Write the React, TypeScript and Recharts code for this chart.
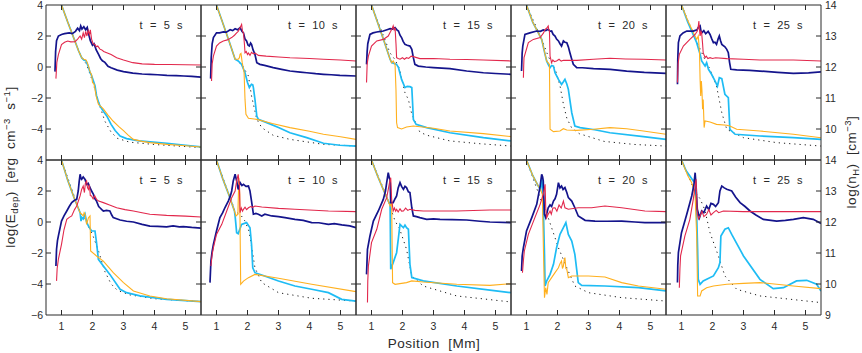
import React from 'react';
import { LineChart, Line, XAxis, YAxis } from 'recharts';

type Pt = [number, number];

// ---------- axis values ----------
const xTicks = [1, 2, 3, 4, 5];
const eTicksTop = [-4, -2, 0, 2, 4];
const eTicksBottom = [-6, -4, -2, 0, 2, 4];
const nTicksTop = [10, 11, 12, 13, 14];
const nTicksBottom = [9, 10, 11, 12, 13, 14];
const times = [5, 10, 15, 20, 25];

// ---------- top row, t = 5 s ----------
const top05Navy: Pt[] = [[0.79,-0.3],[0.81,1.0],[0.84,1.7],[0.9,2.0],[1.0,2.1],[1.1,2.15],[1.25,2.2],[1.35,2.15],[1.45,2.3],[1.52,2.5],[1.58,2.35],[1.62,2.65],[1.66,2.45],[1.72,2.6],[1.78,2.4],[1.83,2.55],[1.88,2.1],[1.93,1.7],[2.0,1.4],[2.05,1.5],[2.12,1.1],[2.2,0.8],[2.26,0.55],[2.32,0.4],[2.4,0.3],[2.5,0.05],[2.6,-0.05],[2.8,-0.2],[3.0,-0.3],[3.3,-0.4],[3.6,-0.45],[3.85,-0.47],[4.1,-0.5],[4.4,-0.54],[4.7,-0.56],[4.95,-0.58],[5.2,-0.6],[5.5,-0.65]];
const top05Red: Pt[] = [[0.82,-0.75],[0.85,0.3],[0.9,0.8],[1.0,1.45],[1.1,1.6],[1.2,1.68],[1.3,1.62],[1.44,1.63],[1.52,1.8],[1.6,2.0],[1.65,1.8],[1.7,2.2],[1.74,1.9],[1.78,2.3],[1.82,2.0],[1.86,2.35],[1.9,2.1],[1.93,2.4],[1.97,1.8],[2.02,1.5],[2.08,1.45],[2.12,1.3],[2.17,1.35],[2.24,1.15],[2.3,1.1],[2.36,1.0],[2.46,0.92],[2.6,0.8],[2.78,0.6],[3.0,0.45],[3.3,0.28],[3.6,0.2],[4.0,0.17],[4.5,0.16],[5.0,0.15],[5.5,0.13]];
const top05Orange: Pt[] = [[1.0,4.0],[1.2,2.9],[1.4,1.85],[1.55,1.05],[1.65,0.6],[1.72,0.5],[1.79,0.45],[1.83,0.3],[1.87,0.06],[1.92,-0.3],[1.97,-0.5],[2.0,-1.0],[2.05,-1.1],[2.12,-1.9],[2.19,-2.4],[2.35,-2.7],[2.5,-3.1],[2.67,-3.5],[2.85,-3.85],[3.0,-4.1],[3.15,-4.4],[3.32,-4.67],[3.6,-4.8],[3.85,-4.88],[4.4,-4.99],[5.0,-5.08],[5.5,-5.16]];
const top05Cyan: Pt[] = [[1.0,4.0],[1.2,2.9],[1.4,1.85],[1.55,1.05],[1.65,0.6],[1.72,0.45],[1.79,0.4],[1.83,0.2],[1.87,0.0],[1.92,-0.35],[1.97,-0.55],[2.03,-0.9],[2.08,-1.2],[2.13,-1.85],[2.2,-2.3],[2.24,-2.5],[2.35,-2.85],[2.46,-3.16],[2.6,-3.7],[2.73,-4.1],[2.89,-4.45],[3.1,-4.62],[3.5,-4.77],[4.4,-4.92],[5.0,-5.05],[5.5,-5.16]];
const top05Dots: Pt[] = [[1.0,4.0],[1.3,2.4],[1.65,0.6],[1.8,0.2],[2.0,-0.9],[2.2,-2.3],[2.4,-3.5],[2.6,-4.2],[2.8,-4.6],[3.2,-4.85],[4.0,-5.0],[5.5,-5.2]];

// ---------- top row, t = 10 s ----------
const top10Navy: Pt[] = [[0.81,-0.75],[0.83,0.6],[0.86,1.5],[0.9,1.9],[1.0,2.2],[1.1,2.2],[1.22,2.26],[1.32,2.25],[1.44,2.4],[1.52,2.35],[1.6,2.47],[1.68,2.4],[1.76,2.54],[1.82,2.3],[1.87,2.2],[1.92,1.8],[1.97,1.68],[2.02,1.4],[2.06,1.35],[2.1,1.55],[2.13,1.46],[2.18,1.1],[2.24,0.82],[2.3,0.28],[2.4,0.17],[2.55,0.1],[2.83,-0.04],[3.1,-0.15],[3.37,-0.26],[3.7,-0.33],[3.91,-0.37],[4.2,-0.43],[4.45,-0.47],[4.7,-0.5],[4.98,-0.54],[5.5,-0.58]];
const top10Red: Pt[] = [[0.84,-0.9],[0.86,0.2],[0.9,0.7],[1.0,1.35],[1.1,1.55],[1.22,1.68],[1.35,1.75],[1.49,1.9],[1.58,2.05],[1.65,2.2],[1.7,2.3],[1.76,2.54],[1.81,2.75],[1.84,2.3],[1.87,2.2],[1.9,1.5],[1.92,0.92],[1.96,1.0],[2.0,0.8],[2.03,0.9],[2.08,0.75],[2.13,0.95],[2.19,0.85],[2.25,0.9],[2.35,0.75],[2.6,0.7],[3.0,0.65],[3.37,0.6],[4.0,0.55],[4.45,0.5],[5.0,0.45],[5.5,0.39]];
const top10Orange: Pt[] = [[1.0,4.0],[1.2,2.85],[1.4,1.7],[1.6,0.5],[1.7,0.5],[1.74,0.6],[1.76,0.82],[1.79,0.88],[1.83,0.28],[1.89,-0.37],[1.92,-2.09],[1.95,-3.05],[2.03,-3.31],[2.3,-3.38],[2.8,-3.65],[3.37,-3.91],[4.0,-4.15],[4.45,-4.34],[5.0,-4.5],[5.5,-4.67]];
const top10Cyan: Pt[] = [[1.0,4.0],[1.2,2.85],[1.4,1.7],[1.6,0.5],[1.7,0.39],[1.81,0.17],[1.92,-0.37],[2.0,-1.0],[2.06,-1.33],[2.1,-1.2],[2.13,-1.12],[2.17,-1.15],[2.19,-1.33],[2.24,-2.09],[2.3,-3.16],[2.35,-3.38],[2.62,-3.59],[3.0,-3.9],[3.37,-4.24],[3.91,-4.56],[4.45,-4.92],[4.98,-5.05],[5.5,-5.1]];
const top10Dots: Pt[] = [[1.0,4.0],[1.6,0.5],[1.81,0.17],[2.03,-0.58],[2.13,-1.87],[2.3,-3.38],[2.46,-3.91],[2.83,-4.41],[3.37,-4.67],[4.45,-4.99],[5.5,-5.1]];

// ---------- top row, t = 15 s ----------
const top15Navy: Pt[] = [[0.84,0.17],[0.86,1.0],[0.88,1.5],[0.95,2.1],[1.05,2.2],[1.17,2.26],[1.3,2.3],[1.38,2.32],[1.5,2.4],[1.6,2.47],[1.68,2.45],[1.76,2.54],[1.82,2.4],[1.87,2.32],[1.92,2.05],[1.97,1.9],[2.02,1.65],[2.08,1.46],[2.15,1.4],[2.24,1.35],[2.3,1.14],[2.35,0.6],[2.4,0.17],[2.51,0.06],[2.75,0.0],[3.0,-0.04],[3.53,-0.11],[4.07,-0.26],[4.61,-0.37],[5.0,-0.42],[5.5,-0.47]];
const top15Red: Pt[] = [[0.84,-1.0],[0.86,0.2],[0.9,0.7],[1.0,1.35],[1.17,1.68],[1.38,1.78],[1.54,2.0],[1.62,2.3],[1.67,2.5],[1.7,2.65],[1.73,2.4],[1.76,2.54],[1.79,1.5],[1.81,0.6],[1.86,0.55],[1.92,0.5],[2.0,0.6],[2.06,0.5],[2.13,0.6],[2.2,0.55],[2.28,0.7],[2.35,0.67],[2.56,0.54],[3.0,0.55],[3.53,0.5],[4.07,0.48],[4.61,0.45],[5.5,0.39]];
const top15Orange: Pt[] = [[1.0,4.0],[1.2,2.85],[1.4,1.7],[1.6,0.5],[1.65,0.28],[1.7,0.39],[1.76,0.17],[1.79,-1.5],[1.81,-3.6],[1.84,-3.91],[1.97,-4.0],[2.13,-3.87],[2.35,-3.81],[3.0,-3.95],[3.53,-4.13],[4.61,-4.3],[5.5,-4.49]];
const top15Cyan: Pt[] = [[1.0,4.0],[1.2,2.85],[1.4,1.7],[1.6,0.5],[1.65,0.28],[1.81,0.17],[1.87,-0.04],[1.97,-0.8],[2.08,-1.33],[2.15,-1.25],[2.24,-1.27],[2.3,-1.33],[2.33,-2.5],[2.35,-3.38],[2.44,-3.7],[2.78,-3.91],[3.53,-4.24],[4.61,-4.56],[5.5,-4.77]];
const top15Dots: Pt[] = [[1.0,4.0],[1.6,0.9],[1.75,0.5],[1.9,-0.1],[2.08,-1.66],[2.19,-2.1],[2.3,-3.05],[2.56,-4.2],[2.78,-4.4],[3.53,-4.77],[4.5,-4.95],[5.5,-5.1]];

// ---------- top row, t = 20 s ----------
const top20Navy: Pt[] = [[0.84,-0.26],[0.86,0.9],[0.88,1.35],[0.95,2.1],[1.11,2.2],[1.33,2.32],[1.45,2.3],[1.54,2.39],[1.62,2.35],[1.7,2.43],[1.76,2.3],[1.81,2.32],[1.86,2.1],[1.92,2.0],[1.97,1.8],[2.03,1.68],[2.08,1.5],[2.13,1.35],[2.19,1.68],[2.24,1.6],[2.3,1.57],[2.35,1.3],[2.4,0.92],[2.46,0.5],[2.51,0.17],[2.62,-0.04],[2.8,-0.05],[3.16,-0.11],[3.7,-0.15],[4.23,-0.26],[4.8,-0.35],[5.5,-0.41]];
const top20Red: Pt[] = [[0.9,-0.69],[0.91,0.1],[0.92,0.6],[1.06,1.57],[1.22,1.78],[1.44,1.9],[1.55,2.2],[1.6,2.43],[1.65,2.5],[1.7,2.65],[1.72,2.4],[1.74,2.32],[1.75,1.5],[1.76,0.7],[1.81,0.28],[1.85,0.45],[1.9,0.35],[1.97,0.39],[2.05,0.5],[2.12,0.38],[2.19,0.43],[2.4,0.43],[2.62,0.43],[3.16,0.5],[3.69,0.56],[4.2,0.52],[4.77,0.5],[5.5,0.45]];
const top20Orange: Pt[] = [[1.0,4.0],[1.2,2.9],[1.49,1.78],[1.65,0.39],[1.74,0.17],[1.75,-2.0],[1.76,-4.02],[1.87,-4.17],[2.08,-4.13],[2.19,-3.98],[2.3,-4.06],[2.62,-4.09],[3.16,-4.02],[3.69,-3.91],[4.23,-3.98],[4.77,-4.13],[5.5,-4.34]];
const top20Cyan: Pt[] = [[1.0,4.0],[1.2,2.9],[1.49,1.78],[1.6,0.8],[1.65,0.39],[1.7,0.17],[1.76,-0.04],[1.81,0.1],[1.87,0.06],[1.92,-0.37],[2.03,-0.8],[2.13,-1.12],[2.19,-0.95],[2.24,-0.8],[2.3,-1.1],[2.35,-1.44],[2.46,-2.95],[2.56,-3.81],[2.73,-3.91],[3.2,-4.05],[3.69,-4.24],[4.77,-4.49],[5.5,-4.67]];
const top20Dots: Pt[] = [[1.0,4.0],[1.49,1.78],[1.7,0.7],[1.95,-0.3],[2.08,-1.2],[2.2,-2.5],[2.3,-3.3],[2.45,-3.9],[2.7,-4.3],[3.5,-4.8],[4.5,-5.0],[5.5,-5.1]];

// ---------- top row, t = 25 s ----------
const top25Navy: Pt[] = [[0.87,-1.12],[0.88,0.5],[0.9,1.57],[0.95,2.0],[1.05,2.2],[1.17,2.32],[1.38,2.32],[1.5,2.4],[1.54,2.54],[1.6,2.65],[1.63,2.3],[1.65,2.2],[1.72,2.35],[1.78,2.15],[1.81,2.2],[1.86,2.3],[1.92,2.1],[1.98,1.8],[2.03,1.57],[2.08,1.6],[2.13,1.46],[2.18,1.8],[2.22,2.0],[2.26,1.7],[2.3,1.46],[2.4,1.3],[2.46,1.14],[2.51,0.92],[2.55,0.3],[2.59,-0.15],[2.78,-0.19],[3.2,-0.22],[3.53,-0.26],[4.1,-0.35],[4.61,-0.41],[5.1,-0.38],[5.5,-0.32]];
const top25Red: Pt[] = [[0.87,-1.0],[0.89,0.2],[0.93,0.82],[1.06,1.35],[1.27,1.78],[1.44,2.1],[1.51,2.32],[1.54,2.6],[1.56,2.97],[1.58,2.4],[1.6,2.0],[1.63,2.3],[1.65,2.2],[1.68,1.5],[1.7,0.92],[1.76,0.6],[1.8,0.7],[1.85,0.55],[1.92,0.6],[2.0,0.55],[2.1,0.6],[2.46,0.54],[3.0,0.5],[3.53,0.45],[4.61,0.45],[5.5,0.39]];
const top25Orange: Pt[] = [[1.0,4.0],[1.2,3.0],[1.49,1.78],[1.54,2.0],[1.58,1.0],[1.6,-0.8],[1.62,-1.87],[1.64,-0.9],[1.66,-1.5],[1.68,-2.73],[1.7,-2.09],[1.73,-3.91],[1.76,-3.48],[1.92,-3.55],[2.13,-3.7],[2.46,-3.76],[2.56,-3.81],[2.78,-4.02],[3.53,-4.13],[4.61,-4.34],[5.5,-4.56]];
const top25Cyan: Pt[] = [[1.0,4.0],[1.2,2.9],[1.49,1.57],[1.6,0.82],[1.65,0.39],[1.76,0.06],[1.81,0.28],[1.87,-0.15],[1.97,-0.47],[2.08,-0.9],[2.16,-1.23],[2.22,-0.69],[2.3,-0.75],[2.4,-1.76],[2.51,-1.98],[2.56,-4.02],[2.73,-4.34],[3.53,-4.45],[4.61,-4.56],[5.5,-4.67]];
const top25Dots: Pt[] = [[1.0,4.0],[1.5,1.6],[1.75,0.5],[1.92,-0.15],[2.13,-1.23],[2.3,-2.95],[2.46,-4.02],[3.0,-4.56],[4.07,-4.88],[5.5,-5.1]];

// ---------- bottom row, t = 5 s ----------
const bot05Navy: Pt[] = [[0.82,-2.84],[0.84,-1.76],[0.87,-1.2],[0.9,-0.9],[1.0,0.06],[1.08,0.4],[1.17,0.71],[1.25,1.0],[1.33,1.25],[1.42,1.4],[1.49,1.46],[1.54,2.0],[1.57,2.6],[1.6,3.08],[1.63,2.8],[1.65,2.75],[1.7,2.9],[1.76,2.75],[1.81,2.43],[1.86,2.5],[1.92,2.22],[1.97,2.0],[2.03,1.78],[2.08,1.5],[2.13,1.35],[2.2,1.0],[2.24,0.92],[2.3,0.8],[2.35,0.71],[2.45,0.75],[2.56,0.71],[2.62,0.45],[2.67,0.28],[2.89,0.13],[3.1,0.05],[3.32,0.0],[3.6,-0.15],[3.85,-0.26],[4.1,-0.28],[4.39,-0.32],[4.6,-0.25],[4.8,-0.32],[4.93,-0.3],[5.2,-0.35],[5.5,-0.39]];
const bot05Red: Pt[] = [[0.84,-3.8],[0.86,-3.0],[0.9,-2.4],[1.0,-1.44],[1.08,-0.5],[1.17,0.17],[1.25,0.3],[1.33,0.39],[1.42,0.8],[1.49,1.03],[1.6,1.68],[1.65,2.1],[1.7,2.32],[1.74,1.9],[1.77,2.5],[1.81,2.65],[1.84,2.2],[1.87,2.1],[1.9,2.4],[1.93,1.7],[1.97,1.68],[2.02,1.5],[2.07,1.7],[2.13,1.46],[2.2,1.35],[2.35,1.25],[2.55,1.1],[2.78,0.92],[3.05,0.8],[3.32,0.71],[3.6,0.6],[3.85,0.5],[4.39,0.43],[5.0,0.38],[5.5,0.32]];
const bot05Orange: Pt[] = [[1.0,4.0],[1.2,2.7],[1.4,1.6],[1.6,0.6],[1.65,0.5],[1.7,0.39],[1.73,0.6],[1.76,0.5],[1.81,-0.15],[1.87,0.28],[1.92,0.39],[1.94,-1.87],[2.13,-2.19],[2.35,-2.52],[2.67,-3.27],[3.0,-3.91],[3.32,-4.45],[3.85,-4.77],[4.39,-4.95],[5.5,-5.14]];
const bot05Cyan: Pt[] = [[1.0,4.0],[1.2,2.7],[1.4,1.6],[1.6,0.6],[1.63,0.06],[1.65,0.3],[1.7,0.2],[1.76,0.5],[1.81,0.0],[1.87,-0.26],[1.97,-0.58],[2.08,-0.58],[2.13,-1.33],[2.19,-2.41],[2.35,-2.84],[2.56,-3.38],[2.89,-4.34],[3.1,-4.56],[3.53,-4.77],[4.39,-4.99],[5.5,-5.14]];
const bot05Dots: Pt[] = [[1.0,4.0],[1.6,0.6],[1.8,0.0],[2.0,-0.8],[2.2,-1.9],[2.4,-3.2],[2.6,-4.0],[2.8,-4.4],[3.2,-4.7],[4.0,-4.95],[5.5,-5.14]];

// ---------- bottom row, t = 10 s ----------
const bot10Navy: Pt[] = [[0.79,-3.91],[0.82,-2.52],[0.86,-1.9],[0.9,-1.44],[1.0,-0.58],[1.11,0.28],[1.2,0.6],[1.27,0.92],[1.38,1.35],[1.45,1.7],[1.49,2.0],[1.54,2.65],[1.6,3.08],[1.65,2.65],[1.7,2.1],[1.76,2.54],[1.82,2.35],[1.87,2.43],[1.95,2.3],[2.03,2.32],[2.08,2.0],[2.13,1.35],[2.19,0.5],[2.27,0.55],[2.35,0.5],[2.46,0.39],[2.56,0.5],[2.78,0.39],[3.0,0.35],[3.21,0.28],[3.53,0.17],[3.8,0.1],[4.07,-0.04],[4.3,-0.05],[4.61,-0.15],[4.8,-0.1],[5.04,-0.19],[5.3,-0.25],[5.5,-0.37]];
const bot10Red: Pt[] = [[0.82,-2.84],[0.86,-2.1],[0.9,-1.66],[1.0,-0.8],[1.17,-0.15],[1.33,0.71],[1.49,1.57],[1.6,2.0],[1.65,2.65],[1.7,3.08],[1.72,2.6],[1.74,2.43],[1.76,0.6],[1.8,0.9],[1.84,0.7],[1.87,0.82],[1.92,0.95],[1.97,0.8],[2.03,0.92],[2.1,1.0],[2.17,0.95],[2.24,1.03],[2.46,0.97],[3.0,0.88],[3.53,0.82],[4.61,0.71],[5.5,0.67]];
const bot10Orange: Pt[] = [[1.0,4.0],[1.2,2.8],[1.4,1.75],[1.58,0.71],[1.63,0.39],[1.69,0.5],[1.72,2.86],[1.75,1.78],[1.78,-4.02],[1.87,-3.81],[2.03,-3.59],[2.24,-3.38],[3.0,-3.63],[4.07,-4.02],[5.5,-4.49]];
const bot10Cyan: Pt[] = [[1.0,4.0],[1.2,2.8],[1.4,1.75],[1.58,0.71],[1.6,0.39],[1.65,-0.69],[1.7,-0.75],[1.81,-0.15],[1.97,-0.04],[2.08,-0.37],[2.13,-1.44],[2.17,-2.95],[2.24,-3.27],[2.46,-3.42],[3.0,-3.81],[3.53,-4.13],[4.07,-4.34],[4.61,-4.56],[5.04,-4.99],[5.5,-5.1]];
const bot10Dots: Pt[] = [[1.0,4.0],[1.6,0.7],[1.8,0.4],[1.92,0.06],[2.05,-0.6],[2.15,-1.8],[2.24,-2.95],[2.46,-3.91],[3.0,-4.56],[4.07,-4.92],[5.5,-5.1]];

// ---------- bottom row, t = 15 s ----------
const bot15Navy: Pt[] = [[0.84,-3.38],[0.87,-1.76],[0.95,-0.9],[1.06,0.06],[1.22,0.71],[1.38,1.46],[1.45,2.0],[1.49,2.54],[1.54,3.18],[1.58,2.8],[1.6,2.75],[1.62,1.25],[1.7,1.25],[1.76,1.5],[1.81,1.68],[1.86,2.2],[1.92,2.54],[1.97,2.3],[2.03,2.11],[2.08,2.3],[2.13,2.22],[2.19,1.95],[2.24,1.9],[2.3,0.92],[2.35,0.39],[2.45,0.35],[2.56,0.28],[2.78,0.17],[3.0,0.2],[3.21,0.17],[3.6,0.15],[4.07,0.13],[4.5,0.05],[4.82,0.0],[5.5,-0.04]];
const bot15Red: Pt[] = [[0.87,-5.2],[0.88,-3.8],[0.9,-2.84],[1.0,-1.33],[1.17,-0.47],[1.33,0.82],[1.49,1.57],[1.55,2.2],[1.58,2.54],[1.62,2.86],[1.65,1.46],[1.7,0.71],[1.74,0.9],[1.78,0.7],[1.81,0.82],[1.86,0.65],[1.92,0.85],[1.97,0.7],[2.03,0.71],[2.1,0.9],[2.17,0.75],[2.24,0.82],[2.4,0.75],[2.67,0.71],[3.75,0.71],[4.82,0.77],[5.5,0.77]];
const bot15Orange: Pt[] = [[1.0,4.0],[1.2,2.95],[1.4,2.0],[1.54,1.35],[1.6,1.03],[1.65,1.25],[1.68,-3.91],[1.76,-4.02],[2.13,-3.91],[2.3,-3.8],[2.67,-3.87],[3.75,-4.02],[4.82,-4.09],[5.5,-3.98]];
const bot15Cyan: Pt[] = [[1.0,4.0],[1.2,2.95],[1.4,2.0],[1.54,1.35],[1.6,1.14],[1.62,-3.05],[1.7,-2.62],[1.81,-1.98],[1.87,-1.0],[1.92,-0.15],[2.03,-0.37],[2.08,-0.2],[2.13,-0.37],[2.19,-0.47],[2.24,-2.73],[2.3,-3.59],[2.67,-3.8],[3.75,-4.13],[4.82,-4.39],[5.5,-4.56]];
const bot15Dots: Pt[] = [[1.0,4.0],[1.5,1.6],[1.76,0.06],[1.9,-0.4],[2.13,-1.76],[2.3,-3.48],[2.67,-4.13],[3.75,-4.77],[5.5,-5.16]];

// ---------- bottom row, t = 20 s ----------
const bot20Navy: Pt[] = [[0.84,-3.16],[0.86,-2.2],[0.9,-1.66],[1.0,-0.58],[1.17,0.28],[1.33,1.14],[1.44,2.32],[1.49,3.08],[1.52,2.9],[1.54,2.65],[1.58,0.5],[1.62,0.28],[1.66,0.6],[1.7,0.92],[1.76,1.1],[1.81,1.0],[1.87,1.35],[1.92,1.5],[1.97,1.78],[2.03,2.54],[2.08,2.2],[2.13,2.32],[2.18,2.1],[2.24,2.22],[2.3,1.9],[2.35,1.57],[2.46,1.35],[2.56,0.92],[2.67,0.39],[2.89,0.11],[3.21,0.06],[3.6,0.05],[4.07,0.06],[4.5,0.0],[4.82,-0.04],[5.5,-0.04]];
const bot20Red: Pt[] = [[0.87,-3.27],[0.9,-2.5],[0.93,-1.87],[1.06,-0.8],[1.27,0.28],[1.44,1.14],[1.54,1.78],[1.58,2.2],[1.6,2.43],[1.62,0.92],[1.65,0.28],[1.7,0.5],[1.76,0.71],[1.8,0.5],[1.85,0.9],[1.92,0.92],[1.98,0.7],[2.05,1.1],[2.12,0.9],[2.19,1.35],[2.24,0.92],[2.35,0.82],[2.67,0.92],[3.1,0.92],[3.53,1.03],[4.07,0.92],[4.82,0.71],[5.5,0.67]];
const bot20Orange: Pt[] = [[1.0,4.0],[1.2,3.0],[1.38,2.32],[1.45,2.1],[1.51,1.78],[1.55,-2.09],[1.58,-4.88],[1.62,-4.24],[1.66,-4.67],[1.7,-3.91],[1.81,-3.59],[1.92,-3.27],[2.03,-2.95],[2.08,-2.7],[2.13,-2.52],[2.16,-3.0],[2.19,-2.84],[2.22,-2.4],[2.24,-2.3],[2.27,-3.0],[2.3,-3.05],[2.35,-3.59],[2.46,-3.48],[3.0,-3.48],[3.53,-3.55],[4.07,-3.91],[4.61,-4.13],[5.5,-4.34]];
const bot20Cyan: Pt[] = [[1.0,4.0],[1.2,3.0],[1.38,2.32],[1.45,2.1],[1.49,2.8],[1.52,2.2],[1.54,1.14],[1.58,-2.09],[1.6,-4.13],[1.65,-3.81],[1.76,-3.38],[1.87,-2.73],[1.97,-1.66],[2.08,-0.8],[2.19,-0.37],[2.27,-0.04],[2.35,-0.8],[2.46,-1.23],[2.56,-2.09],[2.67,-3.91],[2.78,-4.09],[3.53,-4.13],[4.61,-4.24],[5.5,-4.45]];
const bot20Dots: Pt[] = [[1.0,4.0],[1.45,1.5],[1.7,0.28],[2.03,-1.66],[2.3,-2.95],[2.56,-4.13],[3.0,-4.56],[4.07,-4.88],[5.5,-5.1]];

// ---------- bottom row, t = 25 s ----------
const bot25Navy: Pt[] = [[0.87,-3.91],[0.88,-2.8],[0.9,-1.98],[1.0,-0.69],[1.17,0.5],[1.33,1.68],[1.4,2.4],[1.44,3.18],[1.47,2.32],[1.51,0.82],[1.58,0.28],[1.65,0.71],[1.72,0.6],[1.81,1.03],[1.88,0.8],[1.95,1.2],[2.03,1.14],[2.1,1.0],[2.19,1.25],[2.24,2.0],[2.3,2.32],[2.38,2.2],[2.46,2.11],[2.62,2.0],[2.75,1.6],[2.89,1.25],[3.05,1.0],[3.21,0.71],[3.4,0.45],[3.64,0.17],[4.07,0.06],[4.35,0.1],[4.61,0.17],[4.93,0.28],[5.25,0.17],[5.5,-0.09]];
const bot25Red: Pt[] = [[0.93,-4.24],[0.95,-3.0],[0.97,-2.19],[1.11,-0.9],[1.27,0.17],[1.38,1.46],[1.44,2.32],[1.47,2.75],[1.49,1.5],[1.51,0.5],[1.55,0.2],[1.6,0.39],[1.66,0.7],[1.72,0.35],[1.81,0.5],[1.88,0.8],[1.95,0.45],[2.03,0.6],[2.12,0.75],[2.2,0.6],[2.35,0.71],[3.0,0.67],[4.07,0.67],[5.5,0.67]];
const bot25Orange: Pt[] = [[1.0,4.0],[1.2,3.0],[1.33,2.54],[1.44,1.68],[1.49,-0.9],[1.52,-4.77],[1.6,-4.77],[1.65,-4.45],[1.81,-4.24],[2.03,-4.13],[2.46,-4.02],[3.0,-3.96],[3.53,-3.91],[4.07,-4.02],[4.61,-4.13],[5.5,-4.3]];
const bot25Cyan: Pt[] = [[1.0,4.0],[1.15,3.3],[1.27,2.97],[1.38,2.65],[1.44,2.75],[1.49,0.39],[1.52,-1.76],[1.54,-3.7],[1.6,-4.02],[1.7,-3.8],[2.03,-3.48],[2.19,-2.95],[2.24,-2.62],[2.27,-0.9],[2.4,-0.47],[2.51,-0.37],[2.62,-0.8],[3.0,-2.19],[3.53,-3.7],[3.96,-4.3],[4.29,-4.24],[4.71,-3.8],[5.04,-3.76],[5.36,-4.02],[5.5,-4.45]];
const bot25Dots: Pt[] = [[1.0,4.0],[1.45,1.9],[1.6,1.5],[1.75,0.8],[1.92,-0.69],[2.19,-2.19],[2.4,-3.48],[2.78,-4.34],[3.53,-4.77],[5.5,-5.2]];

// ---------- styling ----------
const FONT = '"Liberation Sans", Arial, Helvetica, sans-serif';
const INK = '#2a2a2a';
const C_NAVY = '#14148c';
const C_RED = '#e2284c';
const C_ORANGE = '#ffb01e';
const C_CYAN = '#1ebcf4';
const C_DOT = '#1a1a1a';

const PLOT_X0 = 46;
const PLOT_Y0 = 5;
const PW = 155;
const PH = 155;
const PAD = 30;
const TICK = 5;
const TICK_FS = 10.5;

type PanelData = { navy: Pt[]; red: Pt[]; orange: Pt[]; cyan: Pt[]; dots: Pt[] };

const topRow: PanelData[] = [
  { navy: top05Navy, red: top05Red, orange: top05Orange, cyan: top05Cyan, dots: top05Dots },
  { navy: top10Navy, red: top10Red, orange: top10Orange, cyan: top10Cyan, dots: top10Dots },
  { navy: top15Navy, red: top15Red, orange: top15Orange, cyan: top15Cyan, dots: top15Dots },
  { navy: top20Navy, red: top20Red, orange: top20Orange, cyan: top20Cyan, dots: top20Dots },
  { navy: top25Navy, red: top25Red, orange: top25Orange, cyan: top25Cyan, dots: top25Dots },
];
const bottomRow: PanelData[] = [
  { navy: bot05Navy, red: bot05Red, orange: bot05Orange, cyan: bot05Cyan, dots: bot05Dots },
  { navy: bot10Navy, red: bot10Red, orange: bot10Orange, cyan: bot10Cyan, dots: bot10Dots },
  { navy: bot15Navy, red: bot15Red, orange: bot15Orange, cyan: bot15Cyan, dots: bot15Dots },
  { navy: bot20Navy, red: bot20Red, orange: bot20Orange, cyan: bot20Cyan, dots: bot20Dots },
  { navy: bot25Navy, red: bot25Red, orange: bot25Orange, cyan: bot25Cyan, dots: bot25Dots },
];

const toObj = (pts: Pt[]) => pts.map(([x, y]) => ({ x, y }));
const fmt = (v: number) => (v < 0 ? '\u2212' + Math.abs(v) : String(v));

function xTick(side: 'top' | 'bottom', label: boolean) {
  return (p: any) => {
    const { x, y, payload } = p;
    const dir = side === 'bottom' ? -1 : 1;
    return (
      <g>
        <line x1={x} y1={y} x2={x} y2={y + dir * TICK} stroke={INK} strokeWidth={1} />
        {label && (
          <text x={x} y={y + 15} textAnchor="middle" fontSize={TICK_FS} fontFamily={FONT} fill={INK}>
            {fmt(payload.value)}
          </text>
        )}
      </g>
    );
  };
}

function yTick(side: 'left' | 'right', label: boolean, lo: number, hi: number) {
  return (p: any) => {
    const { x, y, payload } = p;
    const v = payload.value as number;
    const dir = side === 'left' ? 1 : -1;
    const interior = v > lo && v < hi;
    return (
      <g>
        {interior && <line x1={x} y1={y} x2={x + dir * TICK} y2={y} stroke={INK} strokeWidth={1} />}
        {label && (
          <text
            x={side === 'left' ? x - 3 : x + 4}
            y={y}
            dy="0.36em"
            textAnchor={side === 'left' ? 'end' : 'start'}
            fontSize={TICK_FS}
            fontFamily={FONT}
            fill={INK}
          >
            {side === 'left' ? fmt(v) : String(v)}
          </text>
        )}
      </g>
    );
  };
}

function Panel({ row, col, d }: { row: number; col: number; d: PanelData }) {
  const left = PLOT_X0 + col * PW - PAD;
  const top = PLOT_Y0 + row * PH - PAD;
  const eTicks = row === 0 ? eTicksTop : eTicksBottom;
  const nTicks = row === 0 ? nTicksTop : nTicksBottom;
  const axisLine = { stroke: INK, strokeWidth: 1 };
  return (
    <div style={{ position: 'absolute', left, top }}>
      <LineChart
        width={PW + 2 * PAD}
        height={PH + 2 * PAD}
        margin={{ top: PAD - 1, right: PAD - 1, bottom: PAD - 1, left: PAD - 1 }}
      >
        <XAxis
          xAxisId="b"
          type="number"
          dataKey="x"
          domain={[0.5, 5.5]}
          ticks={xTicks}
          allowDataOverflow
          height={1}
          tickSize={0}
          tickMargin={0}
          tickLine={false}
          interval={0}
          axisLine={axisLine}
          tick={xTick('bottom', row === 1)}
        />
        <XAxis
          xAxisId="t"
          orientation="top"
          type="number"
          dataKey="x"
          domain={[0.5, 5.5]}
          ticks={xTicks}
          allowDataOverflow
          height={1}
          tickSize={0}
          tickMargin={0}
          tickLine={false}
          interval={0}
          axisLine={axisLine}
          tick={xTick('top', false)}
        />
        <YAxis
          yAxisId="l"
          type="number"
          domain={[-6, 4]}
          ticks={eTicks}
          allowDataOverflow
          width={1}
          tickSize={0}
          tickMargin={0}
          tickLine={false}
          interval={0}
          axisLine={axisLine}
          tick={yTick('left', col === 0, -6, 4)}
        />
        <YAxis
          yAxisId="r"
          orientation="right"
          type="number"
          domain={[9, 14]}
          ticks={nTicks}
          allowDataOverflow
          width={1}
          tickSize={0}
          tickMargin={0}
          tickLine={false}
          interval={0}
          axisLine={axisLine}
          tick={yTick('right', col === 4, 9, 14)}
        />
        <Line xAxisId="b" yAxisId="l" data={toObj(d.dots)} dataKey="y" type="linear" stroke={C_DOT} strokeWidth={1} strokeDasharray="1.2 4" dot={false} isAnimationActive={false} />
        <Line xAxisId="b" yAxisId="l" data={toObj(d.cyan)} dataKey="y" type="linear" stroke={C_CYAN} strokeWidth={1.7} dot={false} isAnimationActive={false} />
        <Line xAxisId="b" yAxisId="l" data={toObj(d.orange)} dataKey="y" type="linear" stroke={C_ORANGE} strokeWidth={1.1} dot={false} isAnimationActive={false} />
        <Line xAxisId="b" yAxisId="l" data={toObj(d.navy)} dataKey="y" type="linear" stroke={C_NAVY} strokeWidth={1.7} dot={false} isAnimationActive={false} />
        <Line xAxisId="b" yAxisId="l" data={toObj(d.red)} dataKey="y" type="linear" stroke={C_RED} strokeWidth={1.1} dot={false} isAnimationActive={false} />
      </LineChart>
    </div>
  );
}

export default function App() {
  const labelFs = 13.5;
  const sub = 9.5;
  return (
    <div
      style={{
        position: 'absolute',
        left: 0,
        top: 0,
        width: 862,
        height: 353,
        background: '#fff',
        overflow: 'hidden',
      }}
    >
      {topRow.map((d, i) => (
        <Panel key={'t' + i} row={0} col={i} d={d} />
      ))}
      {bottomRow.map((d, i) => (
        <Panel key={'b' + i} row={1} col={i} d={d} />
      ))}
      <svg
        width={862}
        height={353}
        style={{ position: 'absolute', left: 0, top: 0, pointerEvents: 'none' }}
      >
        {[0, 1].map((row) =>
          times.map((t, col) => (
            <text
              key={row + '-' + col}
              x={PLOT_X0 + (col + 1) * PW - 18}
              y={PLOT_Y0 + row * PH + 24}
              textAnchor="end"
              fontSize={11}
              fontFamily={FONT}
              fill={INK}
              xmlSpace="preserve"
              style={{ whiteSpace: 'pre', letterSpacing: 0.4 }}
            >
              {`t  =  ${t}  s`}
            </text>
          ))
        )}
        <text
          x={434}
          y={348}
          textAnchor="middle"
          fontSize={labelFs}
          fontFamily={FONT}
          fill={INK}
          xmlSpace="preserve"
          style={{ whiteSpace: 'pre', letterSpacing: 0.5 }}
        >
          {'Position  [Mm]'}
        </text>
        <text
          transform="translate(15,167) rotate(-90)"
          textAnchor="middle"
          fontSize={labelFs}
          fontFamily={FONT}
          fill={INK}
          xmlSpace="preserve"
          style={{ whiteSpace: 'pre', letterSpacing: 0.5 }}
        >
          <tspan>log(E</tspan>
          <tspan fontSize={sub} dy={3}>dep</tspan>
          <tspan dy={-3}>{')  [erg  cm'}</tspan>
          <tspan fontSize={sub} dy={-5}>{'\u22123'}</tspan>
          <tspan dy={5}>{'  s'}</tspan>
          <tspan fontSize={sub} dy={-5}>{'\u22121'}</tspan>
          <tspan dy={5}>]</tspan>
        </text>
        <text
          transform="translate(856,162) rotate(-90)"
          textAnchor="middle"
          fontSize={labelFs}
          fontFamily={FONT}
          fill={INK}
          xmlSpace="preserve"
          style={{ whiteSpace: 'pre', letterSpacing: 0.5 }}
        >
          <tspan>log(n</tspan>
          <tspan fontSize={sub} dy={3}>H</tspan>
          <tspan dy={-3}>{')  [cm'}</tspan>
          <tspan fontSize={sub} dy={-5}>{'\u22123'}</tspan>
          <tspan dy={5}>]</tspan>
        </text>
      </svg>
    </div>
  );
}
